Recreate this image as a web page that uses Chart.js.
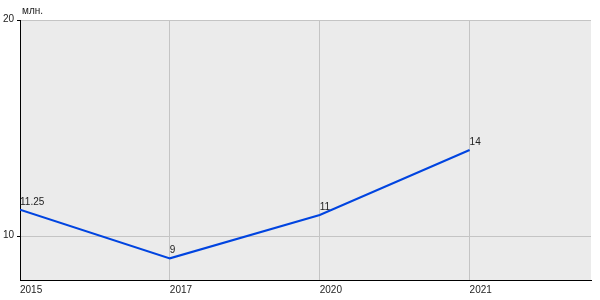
<!DOCTYPE html>
<html>
<head>
<meta charset="utf-8">
<script src="https://cdn.jsdelivr.net/npm/chart.js@4"></script>
<style>
  html, body { margin: 0; padding: 0; background: #fff; }
  canvas { display: block; }
</style>
</head>
<body>
<canvas id="chart" width="600" height="300"></canvas>
<script>
// ---------- DATA ----------
const years = ['2015', '2017', '2020', '2021'];
const values = [11.25, 9, 11, 14];
const valueLabels = ['11.25', '9', '11', '14'];
const yTicks = [10, 20];
const unitLabel = 'млн.';

const FONT = '"Liberation Sans", Arial, sans-serif';

// plot background
const plotBg = {
    id: 'plotBg',
    beforeDraw(chart) {
        const { ctx, chartArea: a } = chart;
        ctx.save();
        ctx.fillStyle = '#ebebeb';
        ctx.fillRect(a.left, a.top, a.right - a.left, a.bottom - a.top);
        ctx.restore();
    }
};

// value labels + unit text
const labels = {
    id: 'labels',
    afterDatasetsDraw(chart) {
        const { ctx, chartArea: a } = chart;
        ctx.save();
        ctx.font = '10px ' + FONT;
        ctx.fillStyle = '#222';
        ctx.textAlign = 'left';
        ctx.textBaseline = 'alphabetic';
        chart.getDatasetMeta(0).data.forEach((pt, i) => {
            ctx.fillText(valueLabels[i], pt.x, pt.y - 5);
        });
        ctx.textBaseline = 'middle';
        ctx.fillText(unitLabel, a.left + 2, a.top - 9);
        ctx.restore();
    }
};

new Chart(document.getElementById('chart'), {
    type: 'line',
    data: {
        datasets: [{
            data: values.map((v, i) => ({ x: i, y: v })),
            borderColor: '#0044e0',
            borderWidth: 2,
            pointRadius: 0,
            tension: 0,
            fill: false
        }]
    },
    options: {
        responsive: false,
        animation: false,
        layout: { padding: { top: 20, right: 9, left: 0, bottom: 0 } },
        plugins: { legend: { display: false }, tooltip: { enabled: false } },
        scales: {
            x: {
                type: 'linear',
                min: 0,
                max: 3.81,
                afterBuildTicks(s) { s.ticks = years.map((_, i) => ({ value: i })); },
                afterFit(s) { s.height = 20; },
                grid: { color: '#c4c4c4', drawTicks: false, lineWidth: 1 },
                border: { color: '#000', width: 1 },
                ticks: {
                    align: 'start',
                    maxRotation: 0,
                    autoSkip: false,
                    padding: 4,
                    color: '#222',
                    font: { family: FONT, size: 10 },
                    callback: (v) => years[v] ?? ''
                }
            },
            y: {
                min: 8,
                max: 20,
                afterBuildTicks(s) { s.ticks = yTicks.map(v => ({ value: v })); },
                afterFit(s) { s.width = 20; },
                grid: { color: '#c4c4c4', tickColor: '#000', tickLength: 3, lineWidth: 1 },
                border: { color: '#000', width: 1 },
                ticks: {
                    padding: 3,
                    labelOffset: -1,
                    color: '#222',
                    font: { family: FONT, size: 10 }
                }
            }
        }
    },
    plugins: [plotBg, labels]
});
</script>
</body>
</html>
